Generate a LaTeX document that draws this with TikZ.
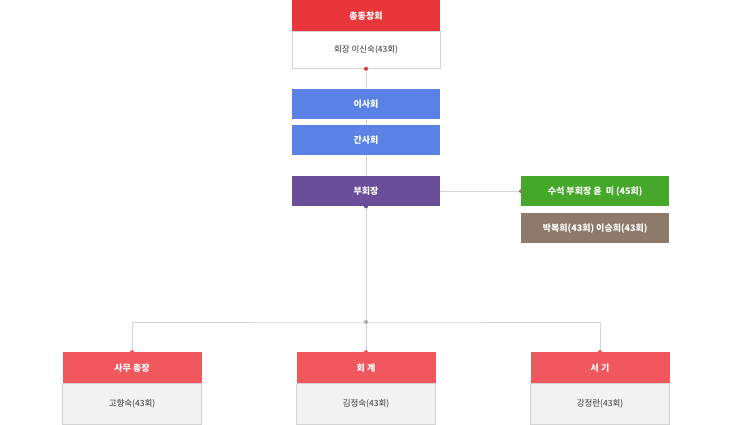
\documentclass[tikz,border=0pt]{standalone}
\usepackage{fontspec}
\setmainfont{Noto Sans CJK KR}
\definecolor{headred}{HTML}{E8363B}
\definecolor{boardblue}{HTML}{5A82E6}
\definecolor{vicepurple}{HTML}{6A4E9A}
\definecolor{chiefgreen}{HTML}{46A82B}
\definecolor{vicebrown}{HTML}{8C7B6B}
\definecolor{deptred}{HTML}{F0585E}
\definecolor{bodygray}{HTML}{F2F2F2}
\definecolor{linegray}{HTML}{D4D4D4}
\tikzset{
  headbox/.style={text=white,font=\fontsize{9}{10}\selectfont\bfseries,inner sep=0pt,minimum height=30pt},
  namebox/.style={draw=linegray,text=black!80,font=\fontsize{8.5}{10}\selectfont,inner sep=0pt},
  dot/.style={circle,fill,inner sep=0pt,minimum size=4pt},
  wire/.style={draw=linegray,line width=0.8pt}
}
\begin{document}
\begin{tikzpicture}[x=1pt,y=-1pt]
  \useasboundingbox (0,0) rectangle (730,425);

  % top
  \node[headbox,fill=headred,minimum width=148pt,minimum height=31pt,anchor=north] (general) at (366,0) {총동창회};
  \node[namebox,fill=white,minimum width=148pt,minimum height=37pt,anchor=north] (president) at (general.south) {회장 이신숙(43회)};
  \node[headbox,fill=boardblue,minimum width=148pt,anchor=north] (board) at (366,89) {이사회};
  \node[headbox,fill=boardblue,minimum width=148pt,anchor=north] (staff) at (366,125) {간사회};
  \node[headbox,fill=vicepurple,minimum width=148pt,anchor=north] (vice) at (366,176) {부회장};
  \node[headbox,fill=chiefgreen,minimum width=148pt,anchor=north west] (chief) at (521,176) {수석 부회장 윤 \ 미 (45회)};
  \node[headbox,fill=vicebrown,minimum width=148pt,anchor=north west] (others) at (521,213) {박복희(43회) 이승희(43회)};

  \coordinate (split) at (366,322);

  % bottom departments
  \foreach \name/\x/\title/\person in {sec/132/사무 총장/고향숙(43회), acc/366/회 계/김정숙(43회), clerk/600/서 기/강정란(43회)}{
    \node[headbox,fill=deptred,minimum width=139pt,minimum height=31pt,anchor=north] (\name) at (\x,352) {\title};
    \node[namebox,fill=bodygray,minimum width=139pt,minimum height=41pt,anchor=north] (\name body) at (\name.south) {\person};
  }

  % connectors
  \begin{scope}[on background layer/.try]
  \end{scope}
  \draw[wire] (president.south) -- (board.north);
  \draw[wire] (board.south) -- (staff.north);
  \draw[wire] (staff.south) -- (vice.north);
  \draw[wire] (vice.east) -- (chief.west);
  \draw[wire] (vice.south) -- (split);
  \draw[wire] (sec.north) |- (split) -| (clerk.north);
  \draw[wire] (split) -- (acc.north);

  % dots
  \node[dot,fill=headred] (d1) at (president.south) {};
  \node[dot,fill=vicepurple] (d2) at (vice.south) {};
  \node[dot,fill=vicebrown] (d3) at (chief.west) {};
  \node[dot,fill=linegray!80!black] (d4) at (split) {};
  \node[dot,fill=deptred] (d5) at (sec.north) {};
  \node[dot,fill=deptred] (d6) at (acc.north) {};
  \node[dot,fill=deptred] (d7) at (clerk.north) {};
\end{tikzpicture}
\end{document}
